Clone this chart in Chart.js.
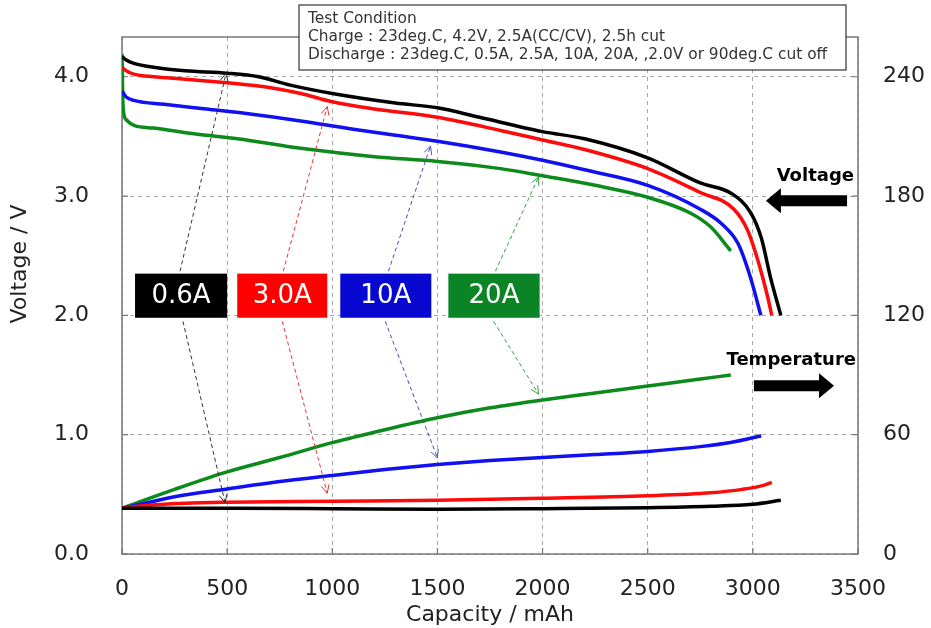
<!DOCTYPE html>
<html>
<head>
<meta charset="utf-8">
<script src="https://cdn.jsdelivr.net/npm/chart.js@4/dist/chart.umd.min.js"></script>
<style>
html,body{margin:0;padding:0;background:#fff;}
canvas{display:block;}
</style>
</head>
<body>
<canvas id="c" width="931" height="628"></canvas>
<script>
// ---------- DATA ----------
const seriesLabels = ['0.6A', '3.0A', '10A', '20A'];
const xTicks = [0, 500, 1000, 1500, 2000, 2500, 3000, 3500];
const voltTicks = [0.0, 1.0, 2.0, 3.0, 4.0];
const tempTicks = [0, 60, 120, 180, 240];

// Voltage curves (capacity mAh, voltage V)
const capV06 = [0, 20, 60, 150, 300, 500, 650, 800, 1000, 1300, 1500, 1700, 2000, 2200, 2500, 2750, 2900, 2990, 3040, 3085, 3133];
const volt06 = [4.17, 4.14, 4.11, 4.08, 4.05, 4.03, 4.00, 3.93, 3.86, 3.78, 3.74, 3.66, 3.54, 3.48, 3.32, 3.11, 3.02, 2.86, 2.65, 2.31, 2.00];
const capV30 = [0, 20, 60, 150, 300, 500, 700, 850, 1000, 1200, 1500, 1800, 2000, 2200, 2500, 2750, 2910, 2976, 3024, 3071, 3090];
const volt30 = [4.08, 4.05, 4.02, 4.00, 3.98, 3.95, 3.91, 3.86, 3.79, 3.73, 3.66, 3.55, 3.47, 3.39, 3.23, 3.03, 2.89, 2.71, 2.46, 2.15, 2.00];
const capV10 = [0, 20, 60, 200, 400, 600, 850, 1100, 1300, 1500, 1800, 2000, 2200, 2500, 2750, 2850, 2930, 2990, 3038];
const volt10 = [3.88, 3.83, 3.80, 3.77, 3.73, 3.69, 3.63, 3.56, 3.51, 3.46, 3.37, 3.30, 3.22, 3.09, 2.89, 2.77, 2.60, 2.31, 2.00];
const capV20 = [0, 5, 20, 60, 150, 350, 550, 850, 1200, 1500, 1800, 2000, 2250, 2500, 2700, 2800, 2895];
const volt20 = [4.19, 3.75, 3.64, 3.59, 3.57, 3.52, 3.48, 3.40, 3.33, 3.29, 3.23, 3.17, 3.09, 2.99, 2.86, 2.74, 2.54];

// Temperature curves (capacity mAh, deg.C)
const capT06 = [0, 500, 1000, 1500, 2000, 2500, 2800, 3000, 3133];
const temp06 = [23, 23, 22.8, 22.5, 22.8, 23.3, 24, 25, 27];
const capT30 = [0, 100, 300, 500, 1000, 1500, 2000, 2500, 2800, 2950, 3050, 3090];
const temp30 = [23, 24.3, 25.5, 26, 26.5, 27, 28, 29.3, 30.8, 32.5, 34.5, 36];
const capT10 = [0, 100, 250, 500, 750, 1000, 1250, 1500, 1750, 2000, 2250, 2500, 2750, 2900, 3040];
const temp10 = [23, 25.3, 28.8, 32.7, 36.5, 39.5, 42.5, 45, 47, 48.5, 50, 51.6, 54, 56.2, 59.5];
const capT20 = [0, 250, 500, 750, 1000, 1250, 1500, 1750, 2000, 2250, 2500, 2750, 2895];
const temp20 = [23, 32.5, 41.3, 48.5, 56, 62.5, 68.5, 73.5, 77.5, 81, 84.5, 88, 90];

// Annotation arrows linking labels to curves: [fromCap, fromV, toCap, toV]
const arrowsToVoltage = [[276, 2.37, 495, 4.03], [767, 2.37, 976, 3.75], [1267, 2.37, 1467, 3.42], [1776, 2.37, 1981, 3.16]];
const arrowsToTemp = [[290, 1.95, 490, 0.43], [762, 1.95, 976, 0.51], [1252, 1.95, 1500, 0.805], [1767, 1.95, 1981, 1.34]];
// Label boxes: [capStart, capEnd, vLow, vHigh]
const labelBoxes = [[62, 500, 1.98, 2.35], [548, 976, 1.98, 2.35], [1038, 1471, 1.98, 2.35], [1552, 1986, 1.98, 2.35]];

const conditionLines = [
  'Test Condition',
  'Charge : 23deg.C, 4.2V, 2.5A(CC/CV), 2.5h cut',
  'Discharge : 23deg.C, 0.5A, 2.5A, 10A, 20A, ,2.0V or 90deg.C cut off'
];

// ---------- STYLE ----------
const lineColors = ['#000000', '#ff0a0a', '#1010f0', '#0c8a1c'];
const boxColors = ['#000000', '#ff0000', '#0808d0', '#0a8424'];
const dashColors = ['#333333', '#f03030', '#4848c8', '#30a040'];
const FONT = "'DejaVu Sans', sans-serif";

function pts(xs, ys) { return xs.map((x, i) => ({x: x, y: ys[i]})); }

const vSets = [[capV06, volt06], [capV30, volt30], [capV10, volt10], [capV20, volt20]];
const tSets = [[capT06, temp06], [capT30, temp30], [capT10, temp10], [capT20, temp20]];

const datasets = [];
vSets.forEach((s, i) => datasets.push({
  label: seriesLabels[i] + ' V', data: pts(s[0], s[1]), yAxisID: 'y',
  borderColor: lineColors[i], borderWidth: 3.5, pointRadius: 0,
  cubicInterpolationMode: 'monotone', fill: false
}));
tSets.forEach((s, i) => datasets.push({
  label: seriesLabels[i] + ' T', data: pts(s[0], s[1]), yAxisID: 'y2',
  borderColor: lineColors[i], borderWidth: 3.5, pointRadius: 0,
  cubicInterpolationMode: 'monotone', fill: false
}));

function arrowHead(ctx, x1, y1, x2, y2, len) {
  const a = Math.atan2(y2 - y1, x2 - x1);
  ctx.beginPath();
  ctx.moveTo(x2 - len * Math.cos(a - 0.45), y2 - len * Math.sin(a - 0.45));
  ctx.lineTo(x2, y2);
  ctx.lineTo(x2 - len * Math.cos(a + 0.45), y2 - len * Math.sin(a + 0.45));
  ctx.stroke();
}

function blockArrow(ctx, xTail, xTip, y) {
  const dir = xTip > xTail ? 1 : -1;
  const headLen = 15, shaftH = 5.5, headH = 12.5;
  const xb = xTip - dir * headLen;
  ctx.beginPath();
  ctx.moveTo(xTail, y - shaftH);
  ctx.lineTo(xb, y - shaftH);
  ctx.lineTo(xb, y - headH);
  ctx.lineTo(xTip, y);
  ctx.lineTo(xb, y + headH);
  ctx.lineTo(xb, y + shaftH);
  ctx.lineTo(xTail, y + shaftH);
  ctx.closePath();
  ctx.fill();
}

function noPad(s) { s.paddingTop = 0; s.paddingBottom = 0; s.paddingLeft = 0; s.paddingRight = 0; }

const overlay = {
  id: 'overlay',
  beforeDatasetsDraw(chart) {
    const ctx = chart.ctx, a = chart.chartArea;
    const sx = chart.scales.x, sy = chart.scales.y, sy2 = chart.scales.y2;
    ctx.save();
    ctx.strokeStyle = '#777';
    ctx.lineWidth = 1.5;
    ctx.setLineDash([]);
    ctx.strokeRect(a.left, a.top, a.right - a.left, a.bottom - a.top);
    ctx.lineWidth = 1.2;
    ctx.beginPath();
    voltTicks.forEach(v => { const y = sy.getPixelForValue(v); ctx.moveTo(a.left, y); ctx.lineTo(a.left + 6, y); });
    tempTicks.forEach(v => { const y = sy2.getPixelForValue(v); ctx.moveTo(a.right, y); ctx.lineTo(a.right - 6, y); });
    xTicks.forEach(v => { const x = sx.getPixelForValue(v); ctx.moveTo(x, a.bottom); ctx.lineTo(x, a.bottom - 6); });
    ctx.stroke();
    ctx.restore();
  },
  afterDatasetsDraw(chart) {
    const ctx = chart.ctx, a = chart.chartArea;
    const sx = chart.scales.x, sy = chart.scales.y;
    ctx.save();
    ctx.lineWidth = 1;
    [arrowsToVoltage, arrowsToTemp].forEach(list => list.forEach((ar, i) => {
      const x1 = sx.getPixelForValue(ar[0]), y1 = sy.getPixelForValue(ar[1]);
      const x2 = sx.getPixelForValue(ar[2]), y2 = sy.getPixelForValue(ar[3]);
      ctx.strokeStyle = dashColors[i];
      ctx.setLineDash([4, 3]);
      ctx.beginPath(); ctx.moveTo(x1, y1); ctx.lineTo(x2, y2); ctx.stroke();
      ctx.setLineDash([]);
      arrowHead(ctx, x1, y1, x2, y2, 9);
    }));
    labelBoxes.forEach((b, i) => {
      const x1 = sx.getPixelForValue(b[0]), x2 = sx.getPixelForValue(b[1]);
      const y1 = sy.getPixelForValue(b[3]), y2 = sy.getPixelForValue(b[2]);
      ctx.fillStyle = boxColors[i];
      ctx.fillRect(x1, y1, x2 - x1, y2 - y1);
      ctx.fillStyle = '#fff';
      ctx.font = '26px ' + FONT;
      ctx.textAlign = 'center';
      ctx.textBaseline = 'middle';
      ctx.fillText(seriesLabels[i], (x1 + x2) / 2, (y1 + y2) / 2 + 1);
    });
    ctx.fillStyle = '#000';
    const vy = sy.getPixelForValue(2.96);
    blockArrow(ctx, sx.getPixelForValue(3448), sx.getPixelForValue(3062), vy);
    const ty = sy.getPixelForValue(1.41);
    blockArrow(ctx, sx.getPixelForValue(3005), sx.getPixelForValue(3386), ty);
    ctx.font = 'bold 18px ' + FONT;
    ctx.textAlign = 'right';
    ctx.textBaseline = 'middle';
    ctx.fillText('Voltage', a.right - 4, vy - 25);
    ctx.fillText('Temperature', a.right - 2, ty - 25);
    ctx.restore();
  },
  afterDraw(chart) {
    const ctx = chart.ctx, a = chart.chartArea;
    ctx.save();
    ctx.fillStyle = '#222';
    ctx.font = '22px ' + FONT;
    ctx.translate(20, a.top + 227);
    ctx.rotate(-Math.PI / 2);
    ctx.textAlign = 'center';
    ctx.textBaseline = 'middle';
    ctx.fillText('Voltage / V', 0, 0);
    ctx.restore();
    ctx.save();
    const bx = a.left + 177, by = 5, bw = 547, bh = 65;
    ctx.fillStyle = '#fff';
    ctx.fillRect(bx, by, bw, bh);
    ctx.strokeStyle = '#333';
    ctx.lineWidth = 1.2;
    ctx.strokeRect(bx, by, bw, bh);
    ctx.fillStyle = '#333';
    ctx.font = '15.4px ' + FONT;
    ctx.textAlign = 'left';
    ctx.textBaseline = 'middle';
    conditionLines.forEach((t, i) => ctx.fillText(t, bx + 9, by + 14 + i * 18));
    ctx.restore();
  }
};

new Chart(document.getElementById('c'), {
  type: 'line',
  data: { datasets: datasets },
  options: {
    responsive: false,
    animation: false,
    devicePixelRatio: 1,
    layout: { padding: { top: 37, left: 0, right: 0, bottom: 0 } },
    plugins: { legend: { display: false }, tooltip: { enabled: false } },
    scales: {
      x: {
        type: 'linear', min: 0, max: 3500,
        afterFit(s) { s.height = 74; noPad(s); },
        afterBuildTicks(s) { s.ticks = xTicks.map(v => ({value: v})); },
        ticks: { font: { family: FONT, size: 22 }, color: '#222', padding: 22, maxRotation: 0, callback: v => String(v) },
        grid: { color: '#a8a8a8', lineWidth: 1, drawTicks: false },
        border: { display: false, dash: [4, 4] },
        title: { display: true, text: 'Capacity / mAh', font: { family: FONT, size: 22 }, color: '#222', padding: { top: 0, bottom: 0 } }
      },
      y: {
        type: 'linear', position: 'left', min: 0, max: 4.3333,
        afterFit(s) { s.width = 122; noPad(s); },
        afterBuildTicks(s) { s.ticks = voltTicks.map(v => ({value: v})); },
        ticks: { font: { family: FONT, size: 22 }, color: '#222', padding: 33, callback: v => v.toFixed(1) },
        grid: { color: '#a8a8a8', lineWidth: 1, drawTicks: false },
        border: { display: false, dash: [4, 4] }
      },
      y2: {
        type: 'linear', position: 'right', min: 0, max: 260,
        afterFit(s) { s.width = 73; noPad(s); },
        afterBuildTicks(s) { s.ticks = tempTicks.map(v => ({value: v})); },
        ticks: { font: { family: FONT, size: 22 }, color: '#222', padding: 25 },
        grid: { drawOnChartArea: false, drawTicks: false },
        border: { display: false }
      }
    }
  },
  plugins: [overlay]
});
</script>
</body>
</html>
